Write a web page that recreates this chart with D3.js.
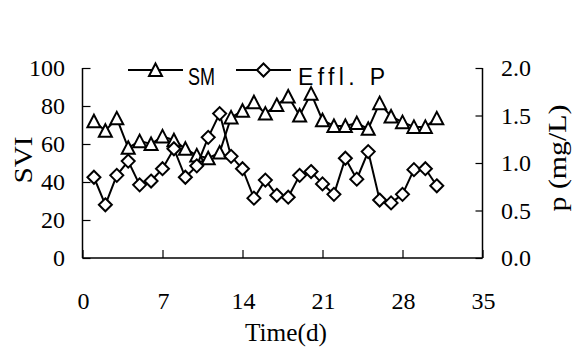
<!DOCTYPE html>
<html>
<head>
<meta charset="utf-8">
<script src="https://cdn.jsdelivr.net/npm/d3@7/dist/d3.min.js"></script>
<style>
  body { margin: 0; background: #fff; }
  svg { display: block; }
  .serif { font-family: "Liberation Serif", "Times New Roman", serif; }
  .sans { font-family: "Liberation Sans", Arial, sans-serif; }
</style>
</head>
<body>
<div id="chart"></div>
<script>
// data
const days = [1, 2, 3, 4, 5, 6, 7, 8, 9, 10, 11, 12, 13, 14, 15, 16, 17, 18, 19, 20, 21, 22, 23, 24, 25, 26, 27, 28, 29, 30, 31];
const svi = [72, 67, 73.5, 58, 61.5, 60, 64, 62, 57.5, 54, 52.5, 55.5, 74, 77.5, 82, 76, 80.5, 85, 75, 86.5, 72.5, 69.5, 69.5, 71, 68, 81.5, 74.5, 71.5, 69, 69, 73.5];
const effP = [0.85, 0.56, 0.87, 1.02, 0.77, 0.81, 0.94, 1.15, 0.85, 0.97, 1.27, 1.52, 1.07, 0.94, 0.63, 0.82, 0.66, 0.64, 0.87, 0.91, 0.78, 0.67, 1.05, 0.83, 1.12, 0.61, 0.58, 0.67, 0.93, 0.94, 0.76];
const xTicks = [0, 7, 14, 21, 28, 35];
const leftTicks = [0, 20, 40, 60, 80, 100];
const rightTicks = [0, 0.5, 1.0, 1.5, 2.0];
const seriesNames = ["SM", "Effl. P"];

const W = 574, H = 347;

const svg = d3.select("#chart").append("svg")
  .attr("width", W)
  .attr("height", H);

const x = d3.scaleLinear().domain([0, 35]).range([82.5, 482.5]);
const yL = d3.scaleLinear().domain([0, 100]).range([258, 68]);
const yR = d3.scaleLinear().domain([0, 2]).range([258, 68]);

// axes, ticks drawn inward
const gx = svg.append("g")
  .attr("transform", "translate(0,258)")
  .call(d3.axisTop(x).tickValues(xTicks).tickSize(8).tickFormat(""));
const gl = svg.append("g")
  .attr("transform", "translate(82.5,0)")
  .call(d3.axisRight(yL).tickValues(leftTicks).tickSize(8).tickFormat(""));
const gr = svg.append("g")
  .attr("transform", "translate(482.5,0)")
  .call(d3.axisLeft(yR).tickValues(rightTicks).tickSize(7).tickFormat(""));

[gx, gl, gr].forEach(g => {
  g.select(".domain").attr("stroke", "#000").attr("stroke-width", 1.5);
  g.selectAll(".tick line").attr("stroke", "#000").attr("stroke-width", 1.2);
});
gl.select(".domain").attr("d", "M0,68V258");
gr.select(".domain").attr("d", "M0,68V258");
gx.select(".domain").attr("d", "M82.5,0H482.5");

// tick labels
svg.selectAll(".xlab")
  .data(xTicks)
  .enter()
  .append("text")
  .attr("class", "serif")
  .attr("x", d => x(d) + 1)
  .attr("y", 309)
  .attr("text-anchor", "middle")
  .attr("font-size", 24)
  .text(d => d);

svg.selectAll(".ylab")
  .data(leftTicks)
  .enter()
  .append("text")
  .attr("class", "serif")
  .attr("x", 65)
  .attr("y", d => yL(d) + 8)
  .attr("text-anchor", "end")
  .attr("font-size", 24)
  .text(d => d);

svg.selectAll(".rlab")
  .data(rightTicks)
  .enter()
  .append("text")
  .attr("class", "serif")
  .attr("x", 501)
  .attr("y", d => yR(d) + 8)
  .attr("font-size", 24)
  .text(d => d.toFixed(1));

// axis titles
svg.append("text")
  .attr("class", "serif")
  .attr("x", 286)
  .attr("y", 341)
  .attr("text-anchor", "middle")
  .attr("font-size", 25)
  .attr("textLength", 82)
  .attr("lengthAdjust", "spacingAndGlyphs")
  .text("Time(d)");

svg.append("text")
  .attr("class", "serif")
  .attr("transform", "translate(32,160) rotate(-90)")
  .attr("text-anchor", "middle")
  .attr("font-size", 26)
  .attr("textLength", 47)
  .attr("lengthAdjust", "spacingAndGlyphs")
  .text("SVI");

svg.append("text")
  .attr("class", "serif")
  .attr("transform", "translate(566,158) rotate(-90)")
  .attr("text-anchor", "middle")
  .attr("font-size", 25)
  .attr("textLength", 107)
  .attr("lengthAdjust", "spacingAndGlyphs")
  .text("p (mg/L)");

// markers
const tri = "M0,-6.5L6.5,6L-6.5,6Z";
const dia = "M0,-6.5L6.5,0L0,6.5L-6.5,0Z";

function drawSeries(vals, yScale, shape) {
  const pts = days.map((d, i) => [x(d), yScale(vals[i])]);
  svg.append("path")
    .attr("d", d3.line()(pts))
    .attr("fill", "none")
    .attr("stroke", "#000")
    .attr("stroke-width", 2);
  svg.selectAll(null)
    .data(pts)
    .enter()
    .append("path")
    .attr("d", shape)
    .attr("transform", p => "translate(" + p[0] + "," + p[1] + ")")
    .attr("fill", "#fff")
    .attr("stroke", "#000")
    .attr("stroke-width", 2);
}

drawSeries(svi, yL, tri);
drawSeries(effP, yR, dia);

// legend
const legend = [
  { name: seriesNames[0], shape: tri, x0: 128, tx: 188, tw: 27 },
  { name: seriesNames[1], shape: dia, x0: 236, tx: 298, tw: 87 }
];
legend.forEach(l => {
  svg.append("line")
    .attr("x1", l.x0).attr("x2", l.x0 + 55)
    .attr("y1", 70).attr("y2", 70)
    .attr("stroke", "#000")
    .attr("stroke-width", 2);
  svg.append("path")
    .attr("d", l.shape)
    .attr("transform", "translate(" + (l.x0 + 27.5) + ",70)")
    .attr("fill", "#fff")
    .attr("stroke", "#000")
    .attr("stroke-width", 2);
  svg.append("text")
    .attr("class", "sans")
    .attr("x", l.tx)
    .attr("y", 85)
    .attr("font-size", 23)
    .attr("textLength", l.tw)
    .attr("lengthAdjust", l.name === "SM" ? "spacingAndGlyphs" : "spacing")
    .text(l.name);
});
</script>
</body>
</html>
